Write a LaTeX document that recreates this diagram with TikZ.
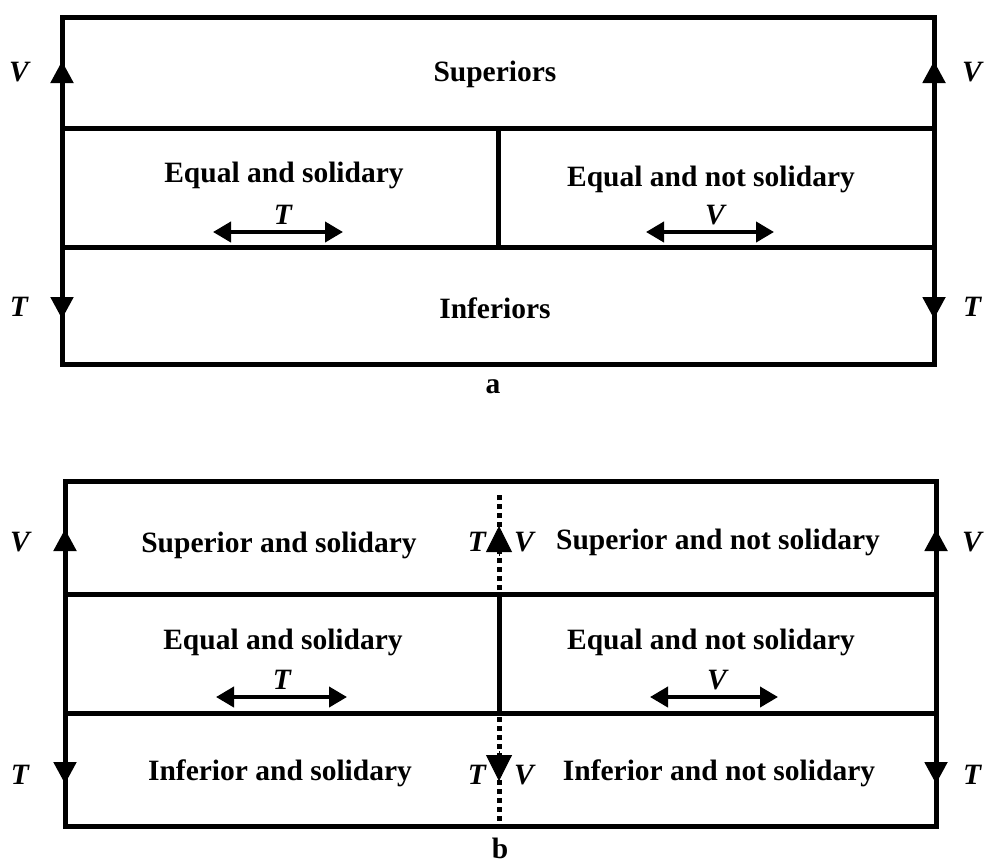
\documentclass[tikz,border=0pt]{standalone}
\usepackage{fontspec}
\setmainfont{Liberation Serif}
\usetikzlibrary{arrows.meta}
\tikzset{
  frame/.style={line width=5pt, line cap=rect},
  lbl/.style={font=\fontsize{29.5}{32}\selectfont\bfseries, inner sep=0pt, anchor=center},
  var/.style={font=\fontsize{29.5}{32}\selectfont\bfseries\itshape, inner sep=0pt},
  headarrow/.style={line width=5pt, -{Triangle[width=22pt,length=22pt]}},
  twoway/.style={line width=4pt, {Triangle[width=20pt,length=18pt]}-{Triangle[width=20pt,length=18pt]}},
  dots/.style={line width=5pt, dash pattern=on 5pt off 4pt},
}
\begin{document}
\begin{tikzpicture}[x=1pt,y=-1pt]
\useasboundingbox (0,0) rectangle (987,865);
% ---------- panel a ----------
\draw[frame] (62,17) rectangle (934,364);
\draw[frame] (62,128) -- (934,128);
\draw[frame] (62,247) -- (934,247);
\draw[frame] (498,128) -- (498,247);
% side arrows
\coordinate (aLV0) at (62,100); \coordinate (aLV1) at (62,61);
\coordinate (aLT0) at (62,280); \coordinate (aLT1) at (62,319);
\coordinate (aRV0) at (934,100); \coordinate (aRV1) at (934,61);
\coordinate (aRT0) at (934,280); \coordinate (aRT1) at (934,319);
\draw[headarrow] (aLV0) -- (aLV1);
\draw[headarrow] (aLT0) -- (aLT1);
\draw[headarrow] (aRV0) -- (aRV1);
\draw[headarrow] (aRT0) -- (aRT1);
\node[var] (aLV) at (19,72) {V};
\node[var] (aLT) at (19,307) {T};
\node[var] (aRV) at (972,72) {V};
\node[var] (aRT) at (972,307) {T};
\node[lbl] (sup) at (495,74) {Superiors};
\node[lbl] (aeqs) at (284,175) {Equal and solidary};
\node[lbl] (aeqn) at (711,179) {Equal and not solidary};
\node[lbl] (inf) at (495,308) {Inferiors};
\coordinate (aT0) at (213,232); \coordinate (aT1) at (343,232);
\coordinate (aV0) at (646,232); \coordinate (aV1) at (774,232);
\draw[twoway] (aT0) -- (aT1);
\draw[twoway] (aV0) -- (aV1);
\node[var] (aTl) at (283,215) {T};
\node[var] (aVl) at (715,215) {V};
\node[lbl] (capa) at (493,387) {a};
% ---------- panel b ----------
\draw[frame] (65,481) rectangle (936,826);
\draw[frame] (65,594) -- (936,594);
\draw[frame] (65,713) -- (936,713);
\draw[frame] (499,594) -- (499,713);
\coordinate (bLV0) at (65,570); \coordinate (bLV1) at (65,529);
\coordinate (bLT0) at (65,745); \coordinate (bLT1) at (65,784);
\coordinate (bRV0) at (936,570); \coordinate (bRV1) at (936,529);
\coordinate (bRT0) at (936,745); \coordinate (bRT1) at (936,784);
\draw[headarrow] (bLV0) -- (bLV1);
\draw[headarrow] (bLT0) -- (bLT1);
\draw[headarrow] (bRV0) -- (bRV1);
\draw[headarrow] (bRT0) -- (bRT1);
\node[var] (bLV) at (20,542) {V};
\node[var] (bLT) at (20,775) {T};
\node[var] (bRV) at (972,542) {V};
\node[var] (bRT) at (972,775) {T};
% center dotted
\coordinate (cU0) at (499,590); \coordinate (cU1) at (499,492);
\coordinate (cUh) at (499,526);
\coordinate (cD0) at (499,717); \coordinate (cD1) at (499,823);
\coordinate (cDh) at (499,781);
\draw[dots] (cU0) -- (cU1);
\draw[dots] (cD0) -- (cD1);
\draw[line width=1pt, -{Triangle[width=26pt,length=26pt]}] (499,556) -- (cUh);
\draw[line width=1pt, -{Triangle[width=26pt,length=26pt]}] (499,751) -- (cDh);
\node[var] (cTu) at (477,542) {T};
\node[var] (cVu) at (524,542) {V};
\node[var] (cTd) at (477,775) {T};
\node[var] (cVd) at (524,775) {V};
\node[lbl] (bss) at (279,545) {Superior and solidary};
\node[lbl] (bsn) at (718,542) {Superior and not solidary};
\node[lbl] (beqs) at (283,642) {Equal and solidary};
\node[lbl] (beqn) at (711,642) {Equal and not solidary};
\node[lbl] (bis) at (280,773) {Inferior and solidary};
\node[lbl] (bin) at (719,773) {Inferior and not solidary};
\coordinate (bT0) at (216,697); \coordinate (bT1) at (347,697);
\coordinate (bV0) at (650,697); \coordinate (bV1) at (778,697);
\draw[twoway] (bT0) -- (bT1);
\draw[twoway] (bV0) -- (bV1);
\node[var] (bTl) at (282,680) {T};
\node[var] (bVl) at (717,680) {V};
\node[lbl, anchor=base] (capb) at (500,858) {b};
\end{tikzpicture}
\end{document}
